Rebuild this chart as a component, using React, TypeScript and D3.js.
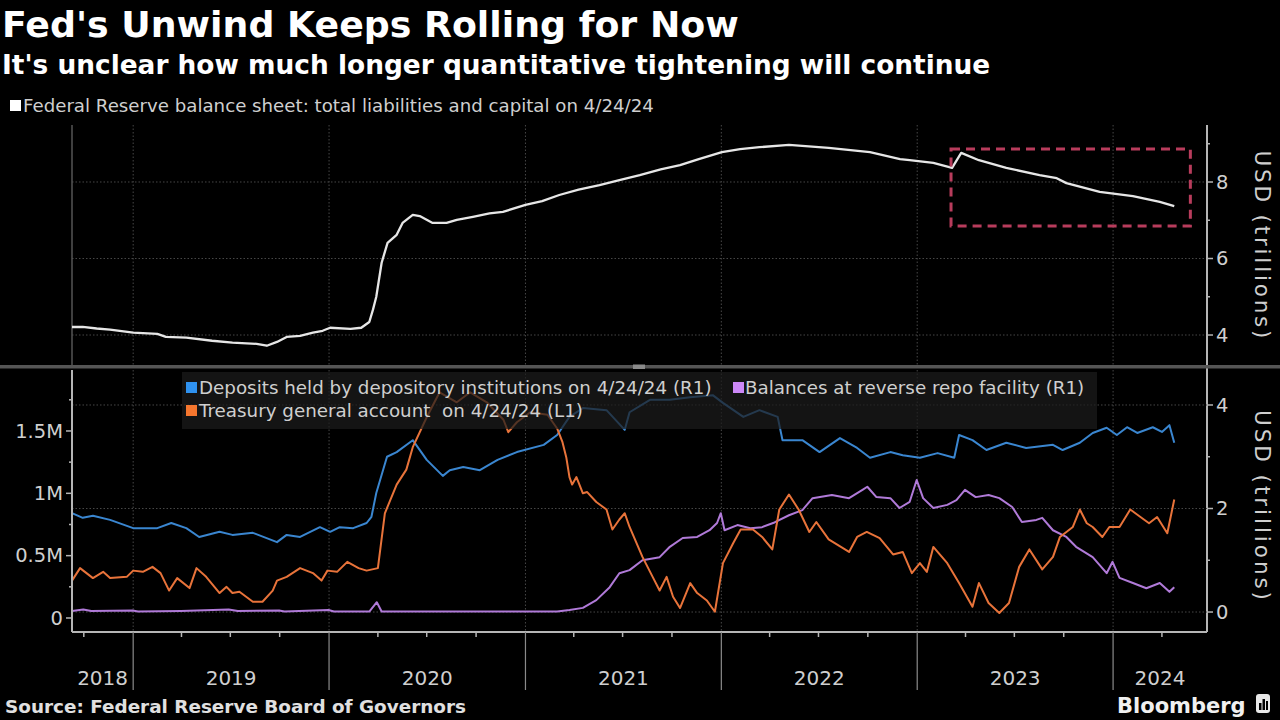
import React from "react";
import * as d3 from "d3";

const TITLE = "Fed's Unwind Keeps Rolling for Now";
const SUBTITLE = "It's unclear how much longer quantitative tightening will continue";
const TOP_LEGEND = "Federal Reserve balance sheet: total liabilities and capital on 4/24/24";
const LEGEND_DEPOSITS = "Deposits held by depository institutions on 4/24/24 (R1)";
const LEGEND_RRP = "Balances at reverse repo facility (R1)";
const LEGEND_TGA = "Treasury general account  on 4/24/24 (L1)";
const SOURCE = "Source: Federal Reserve Board of Governors";
const BRAND = "Bloomberg";
const AXIS_TITLE = "USD (trillions)";

const X_DOMAIN = ["2018-09-09", "2024-06-24"];
const YEARS = [2018, 2019, 2020, 2021, 2022, 2023, 2024];
const TOP_TICKS = [4, 6, 8];
const TOP_MINOR = [5, 7, 9];
const LEFT_TICKS = [0, 0.5, 1, 1.5];
const LEFT_LABELS = ["0", "0.5M", "1M", "1.5M"];
const LEFT_MINOR = [0.25, 0.75, 1.25, 1.75];
const RIGHT_TICKS = [0, 2, 4];
const RIGHT_MINOR = [1, 3];
const HIGHLIGHT_DATES = ["2023-03-05", "2024-05-24"];
const HIGHLIGHT_VALUES = [6.85, 8.86];

// Fed balance sheet, USD trillions
const balanceSheet: [string, number][] = [
  ["2018-09-09", 4.21], ["2018-09-29", 4.21], ["2018-10-25", 4.17], ["2018-11-19", 4.14],
  ["2019-01-01", 4.06], ["2019-02-15", 4.03], ["2019-03-03", 3.95], ["2019-04-10", 3.93],
  ["2019-05-28", 3.85], ["2019-07-05", 3.8], ["2019-08-19", 3.77], ["2019-09-07", 3.72],
  ["2019-09-26", 3.82], ["2019-10-14", 3.95], ["2019-11-08", 3.98], ["2019-12-02", 4.06],
  ["2019-12-20", 4.11], ["2020-01-03", 4.19], ["2020-02-10", 4.16], ["2020-03-01", 4.19],
  ["2020-03-16", 4.34], ["2020-03-23", 4.67], ["2020-03-29", 5.0], ["2020-04-08", 5.89],
  ["2020-04-19", 6.41], ["2020-05-06", 6.62], ["2020-05-17", 6.93], ["2020-06-05", 7.14],
  ["2020-06-18", 7.11], ["2020-07-12", 6.93], ["2020-08-07", 6.93], ["2020-08-26", 7.01],
  ["2020-09-25", 7.09], ["2020-10-26", 7.18], ["2020-11-20", 7.22], ["2021-01-01", 7.4],
  ["2021-02-01", 7.5], ["2021-03-05", 7.66], ["2021-04-10", 7.8], ["2021-05-19", 7.92],
  ["2021-06-25", 8.05], ["2021-08-02", 8.18], ["2021-09-10", 8.33], ["2021-10-16", 8.44],
  ["2021-11-20", 8.6], ["2022-01-02", 8.78], ["2022-02-05", 8.86], ["2022-03-13", 8.91],
  ["2022-05-07", 8.97], ["2022-07-20", 8.89], ["2022-10-05", 8.78], ["2022-11-30", 8.6],
  ["2022-12-18", 8.57], ["2023-01-31", 8.5], ["2023-03-07", 8.37], ["2023-03-24", 8.76],
  ["2023-04-26", 8.57], ["2023-06-16", 8.37], ["2023-08-17", 8.18], ["2023-09-18", 8.1],
  ["2023-10-06", 7.97], ["2023-12-07", 7.74], ["2024-02-07", 7.63], ["2024-03-28", 7.48],
  ["2024-04-24", 7.37],
];

// Deposits held by depository institutions, USD trillions (R1)
const deposits: [string, number][] = [
  ["2018-09-09", 1.91], ["2018-09-29", 1.82], ["2018-10-18", 1.86], ["2018-11-19", 1.78],
  ["2019-01-01", 1.62], ["2019-02-15", 1.62], ["2019-03-13", 1.72], ["2019-04-10", 1.62],
  ["2019-05-04", 1.45], ["2019-06-11", 1.55], ["2019-07-05", 1.49], ["2019-08-12", 1.53],
  ["2019-09-26", 1.35], ["2019-10-14", 1.49], ["2019-11-08", 1.45], ["2019-12-15", 1.64],
  ["2020-01-03", 1.55], ["2020-01-21", 1.64], ["2020-02-15", 1.62], ["2020-03-11", 1.72],
  ["2020-03-20", 1.84], ["2020-03-29", 2.3], ["2020-04-18", 3.0], ["2020-05-06", 3.09],
  ["2020-06-05", 3.32], ["2020-07-01", 2.94], ["2020-07-31", 2.63], ["2020-08-13", 2.74],
  ["2020-09-07", 2.8], ["2020-10-08", 2.74], ["2020-11-10", 2.94], ["2020-12-16", 3.09],
  ["2021-02-04", 3.23], ["2021-03-01", 3.42], ["2021-03-24", 3.77], ["2021-04-18", 3.94],
  ["2021-06-01", 3.9], ["2021-07-05", 3.52], ["2021-07-14", 3.86], ["2021-08-21", 4.1],
  ["2021-09-27", 4.1], ["2021-11-04", 4.15], ["2021-12-16", 4.19], ["2022-01-04", 4.04],
  ["2022-02-11", 3.77], ["2022-03-13", 3.9], ["2022-04-16", 3.77], ["2022-04-25", 3.32],
  ["2022-06-01", 3.32], ["2022-07-03", 3.09], ["2022-08-10", 3.36], ["2022-09-11", 3.17],
  ["2022-10-05", 2.98], ["2022-11-12", 3.09], ["2022-12-05", 3.03], ["2023-01-06", 2.98],
  ["2023-02-08", 3.07], ["2023-03-11", 2.98], ["2023-03-20", 3.42], ["2023-04-14", 3.32],
  ["2023-05-10", 3.13], ["2023-06-16", 3.27], ["2023-07-23", 3.17], ["2023-09-11", 3.23],
  ["2023-09-29", 3.13], ["2023-10-31", 3.27], ["2023-11-24", 3.46], ["2023-12-20", 3.56],
  ["2024-01-08", 3.42], ["2024-01-27", 3.57], ["2024-02-15", 3.46], ["2024-03-15", 3.57],
  ["2024-04-01", 3.48], ["2024-04-15", 3.61], ["2024-04-24", 3.27],
];

// Treasury general account, in millions of USD millions (L1)
const tga: [string, number][] = [
  ["2018-09-09", 0.3], ["2018-09-24", 0.4], ["2018-10-18", 0.32], ["2018-11-06", 0.37],
  ["2018-11-19", 0.32], ["2018-12-20", 0.33], ["2019-01-01", 0.38], ["2019-01-19", 0.37],
  ["2019-02-06", 0.41], ["2019-02-21", 0.36], ["2019-03-09", 0.22], ["2019-03-24", 0.32],
  ["2019-04-16", 0.24], ["2019-04-29", 0.4], ["2019-05-17", 0.33], ["2019-06-11", 0.2],
  ["2019-06-24", 0.25], ["2019-07-05", 0.2], ["2019-07-18", 0.21], ["2019-08-12", 0.13],
  ["2019-08-30", 0.13], ["2019-09-18", 0.22], ["2019-09-26", 0.3], ["2019-10-14", 0.33],
  ["2019-11-08", 0.4], ["2019-12-02", 0.36], ["2019-12-18", 0.3], ["2019-12-29", 0.38],
  ["2020-01-16", 0.37], ["2020-02-04", 0.45], ["2020-02-25", 0.4], ["2020-03-11", 0.38],
  ["2020-04-01", 0.4], ["2020-04-14", 0.84], ["2020-05-06", 1.07], ["2020-05-24", 1.19],
  ["2020-06-05", 1.37], ["2020-07-01", 1.61], ["2020-07-25", 1.81], ["2020-08-26", 1.73],
  ["2020-09-20", 1.81], ["2020-10-21", 1.73], ["2020-11-21", 1.59], ["2020-11-30", 1.49],
  ["2020-12-16", 1.57], ["2021-01-10", 1.65], ["2021-02-11", 1.63], ["2021-03-01", 1.52],
  ["2021-03-11", 1.41], ["2021-03-18", 1.29], ["2021-03-24", 1.13], ["2021-03-29", 1.07],
  ["2021-04-06", 1.13], ["2021-04-18", 1.0], ["2021-04-26", 1.01], ["2021-05-13", 0.93],
  ["2021-06-01", 0.87], ["2021-06-12", 0.71], ["2021-06-25", 0.79], ["2021-07-05", 0.84],
  ["2021-07-14", 0.73], ["2021-08-07", 0.49], ["2021-08-26", 0.33], ["2021-09-08", 0.22],
  ["2021-09-21", 0.33], ["2021-10-03", 0.17], ["2021-10-16", 0.08], ["2021-11-04", 0.28],
  ["2021-11-17", 0.2], ["2021-12-05", 0.14], ["2021-12-20", 0.05], ["2022-01-04", 0.44],
  ["2022-01-23", 0.6], ["2022-02-06", 0.71], ["2022-03-01", 0.71], ["2022-03-18", 0.65],
  ["2022-04-06", 0.55], ["2022-04-19", 0.87], ["2022-05-07", 0.99], ["2022-05-25", 0.87],
  ["2022-06-14", 0.69], ["2022-06-27", 0.77], ["2022-07-20", 0.63], ["2022-08-27", 0.53],
  ["2022-09-11", 0.65], ["2022-09-29", 0.69], ["2022-10-23", 0.64], ["2022-11-17", 0.51],
  ["2022-12-05", 0.53], ["2022-12-22", 0.36], ["2023-01-06", 0.44], ["2023-01-19", 0.37],
  ["2023-01-31", 0.57], ["2023-02-26", 0.44], ["2023-03-20", 0.28], ["2023-04-14", 0.09],
  ["2023-04-26", 0.28], ["2023-05-14", 0.12], ["2023-06-03", 0.04], ["2023-06-21", 0.12],
  ["2023-07-10", 0.41], ["2023-07-29", 0.55], ["2023-08-22", 0.39], ["2023-09-11", 0.49],
  ["2023-09-24", 0.65], ["2023-10-18", 0.73], ["2023-10-31", 0.87], ["2023-11-13", 0.76],
  ["2023-11-24", 0.73], ["2023-12-12", 0.65], ["2023-12-25", 0.73], ["2024-01-13", 0.73],
  ["2024-02-02", 0.87], ["2024-02-21", 0.81], ["2024-03-08", 0.76], ["2024-03-23", 0.81],
  ["2024-04-11", 0.68], ["2024-04-24", 0.95],
];

// Balances at reverse repo facility, USD trillions (R1)
const rrp: [string, number][] = [
  ["2018-09-09", 0.02], ["2018-09-30", 0.05], ["2018-10-15", 0.02], ["2018-12-31", 0.03],
  ["2019-01-10", 0.01], ["2019-03-31", 0.02], ["2019-06-28", 0.05], ["2019-07-15", 0.02],
  ["2019-09-30", 0.03], ["2019-10-10", 0.01], ["2019-12-31", 0.04], ["2020-01-10", 0.01],
  ["2020-03-16", 0.01], ["2020-03-30", 0.19], ["2020-04-08", 0.01], ["2020-09-30", 0.01],
  ["2020-12-31", 0.01], ["2021-03-01", 0.01], ["2021-03-24", 0.04], ["2021-04-18", 0.08],
  ["2021-05-13", 0.23], ["2021-06-07", 0.48], ["2021-06-25", 0.75], ["2021-07-14", 0.81],
  ["2021-08-07", 1.0], ["2021-09-08", 1.06], ["2021-09-27", 1.26], ["2021-10-21", 1.43],
  ["2021-11-17", 1.45], ["2021-12-10", 1.58], ["2021-12-24", 1.72], ["2021-12-31", 1.91],
  ["2022-01-07", 1.58], ["2022-01-31", 1.68], ["2022-02-24", 1.62], ["2022-03-18", 1.64],
  ["2022-04-10", 1.73], ["2022-05-07", 1.87], ["2022-06-01", 1.97], ["2022-06-20", 2.2],
  ["2022-07-26", 2.26], ["2022-08-27", 2.2], ["2022-09-21", 2.36], ["2022-09-30", 2.42],
  ["2022-10-17", 2.22], ["2022-11-12", 2.2], ["2022-11-29", 2.01], ["2022-12-18", 2.13],
  ["2022-12-31", 2.55], ["2023-01-12", 2.2], ["2023-01-31", 2.01], ["2023-02-26", 2.07],
  ["2023-03-15", 2.16], ["2023-03-31", 2.36], ["2023-04-20", 2.22], ["2023-05-14", 2.26],
  ["2023-06-03", 2.2], ["2023-06-27", 2.03], ["2023-07-15", 1.74], ["2023-08-11", 1.78],
  ["2023-08-22", 1.82], ["2023-09-11", 1.58], ["2023-10-06", 1.45], ["2023-10-24", 1.26],
  ["2023-11-24", 1.06], ["2023-12-20", 0.75], ["2023-12-31", 0.97], ["2024-01-13", 0.66],
  ["2024-02-07", 0.56], ["2024-03-03", 0.46], ["2024-03-28", 0.56], ["2024-04-15", 0.39],
  ["2024-04-24", 0.48],
];

const W = 1280;
const H = 720;
const X0 = 72;
const X1 = 1207;
const TOP_Y0 = 125;
const TOP_Y1 = 366;
const BOT_Y0 = 370;
const BOT_Y1 = 632;

const FONT = "DejaVu Sans";
const C_TEXT = "#cfcfcf";
const C_AXIS = "#b5b5b5";
const C_GRID = "#474747";
const C_BLUE = "#3a86d0";
const C_ORANGE = "#e8733a";
const C_PURPLE = "#b07ad8";
const SQ_BLUE = "#2f92f0";
const SQ_ORANGE = "#f5762e";
const SQ_PURPLE = "#cc88f7";

const parse = d3.timeParse("%Y-%m-%d");
type Pt = [Date, number];
const toPts = (arr: [string, number][]): Pt[] => arr.map(([d, v]) => [parse(d) as Date, v]);

export default function App() {
  const d0 = parse(X_DOMAIN[0]) as Date;
  const d1 = parse(X_DOMAIN[1]) as Date;
  const x = d3.scaleTime().domain([d0, d1]).range([X0, X1]);
  const yTop = d3.scaleLinear().domain([3.19, 9.49]).range([TOP_Y1, TOP_Y0]);
  const yL = d3.scaleLinear().domain([-0.1123, 1.989]).range([BOT_Y1, BOT_Y0]);
  const yR = d3.scaleLinear().domain([-0.386, 4.676]).range([BOT_Y1, BOT_Y0]);

  const lineTop = d3.line<Pt>().x((d) => x(d[0])).y((d) => yTop(d[1]));
  const lineL = d3.line<Pt>().x((d) => x(d[0])).y((d) => yL(d[1]));
  const lineR = d3.line<Pt>().x((d) => x(d[0])).y((d) => yR(d[1]));

  const yearStarts = d3.timeYear.range(d0, d1);
  const quarters = d3.timeMonth.every(3)!.range(d0, d1).filter((d) => d.getMonth() !== 0);

  const yearLabels = YEARS.map((yr) => {
    const s = new Date(yr, 0, 1) < d0 ? d0 : new Date(yr, 0, 1);
    const e = new Date(yr + 1, 0, 1) > d1 ? d1 : new Date(yr + 1, 0, 1);
    return { yr, cx: (x(s) + x(e)) / 2 };
  });

  const hx0 = x(parse(HIGHLIGHT_DATES[0]) as Date);
  const hx1 = x(parse(HIGHLIGHT_DATES[1]) as Date);
  const hy0 = yTop(HIGHLIGHT_VALUES[1]);
  const hy1 = yTop(HIGHLIGHT_VALUES[0]);

  return (
    <svg
      width={W}
      height={H}
      style={{ position: "absolute", left: 0, top: 0, background: "#000", display: "block" }}
      fontFamily={FONT}
    >
      <rect x={0} y={0} width={W} height={H} fill="#000" />
      {/* titles */}
      <text x={2} y={37} fill="#fff" fontSize={36.3} fontWeight="bold">{TITLE}</text>
      <text x={2} y={74} fill="#fff" fontSize={26.4} fontWeight="bold">{SUBTITLE}</text>
      <rect x={10} y={100} width={11} height={11} fill="#fff" />
      <text x={23} y={112} fill={C_TEXT} fontSize={18.2}>{TOP_LEGEND}</text>

      {/* top panel grid */}
      {yearStarts.map((d, i) => (
        <line key={"tg" + i} x1={x(d)} x2={x(d)} y1={TOP_Y0} y2={TOP_Y1} stroke={C_GRID} strokeDasharray="1.5 2" />
      ))}
      {TOP_TICKS.map((t) => (
        <line key={"th" + t} x1={X0} x2={X1} y1={yTop(t)} y2={yTop(t)} stroke={C_GRID} strokeDasharray="1.5 2" />
      ))}
      <line x1={X0} x2={X0} y1={TOP_Y0} y2={TOP_Y1} stroke="#555" strokeWidth={1.5} />

      {/* top panel line */}
      <path d={lineTop(toPts(balanceSheet)) || ""} fill="none" stroke="#e6e6e6" strokeWidth={2.3} strokeLinejoin="round" />

      {/* highlight */}
      <rect x={hx0} y={hy0} width={hx1 - hx0} height={hy1 - hy0} fill="none" stroke="#b83c5c" strokeWidth={3} strokeDasharray="9 6" />

      {/* right axis top */}
      <line x1={X1} x2={X1} y1={TOP_Y0} y2={BOT_Y1} stroke={C_AXIS} strokeWidth={2} />
      {TOP_TICKS.map((t) => (
        <g key={"tt" + t}>
          <line x1={X1} x2={X1 + 6} y1={yTop(t)} y2={yTop(t)} stroke={C_AXIS} strokeWidth={1.5} />
          <text x={X1 + 9} y={yTop(t)} dy="0.35em" fill={C_TEXT} fontSize={19.5}>{t}</text>
        </g>
      ))}
      {TOP_MINOR.map((t) => (
        <line key={"tm" + t} x1={X1} x2={X1 + 3} y1={yTop(t)} y2={yTop(t)} stroke={C_AXIS} strokeWidth={1.5} />
      ))}
      <text
        transform={`translate(1255, ${(TOP_Y0 + TOP_Y1) / 2 - 1}) rotate(90)`}
        textAnchor="middle"
        fill={C_TEXT}
        fontSize={21.5}
        textLength={188}
        lengthAdjust="spacing"
      >
        {AXIS_TITLE}
      </text>

      {/* separator */}
      <rect x={0} y={365} width={W} height={3.5} fill="#555" />
      <rect x={633} y={364.5} width={12} height={4.5} fill="#8a8a8a" />

      {/* bottom panel grid */}
      {yearStarts.map((d, i) => (
        <line key={"bg" + i} x1={x(d)} x2={x(d)} y1={BOT_Y0} y2={BOT_Y1} stroke={C_GRID} strokeDasharray="1.5 2" />
      ))}
      {RIGHT_TICKS.map((t) => (
        <line key={"bh" + t} x1={X0} x2={X1} y1={yR(t)} y2={yR(t)} stroke={C_GRID} strokeDasharray="1.5 2" />
      ))}

      {/* bottom lines */}
      <path d={lineR(toPts(deposits)) || ""} fill="none" stroke={C_BLUE} strokeWidth={2} strokeLinejoin="round" />
      <path d={lineR(toPts(rrp)) || ""} fill="none" stroke={C_PURPLE} strokeWidth={2} strokeLinejoin="round" />
      <path d={lineL(toPts(tga)) || ""} fill="none" stroke={C_ORANGE} strokeWidth={2} strokeLinejoin="round" />

      {/* legend */}
      <rect x={182} y={372} width={915} height={57} fill="rgba(28,28,28,0.72)" />
      <rect x={186} y={382} width={11} height={11} fill={SQ_BLUE} />
      <text x={199} y={394} fill={C_TEXT} fontSize={18.3}>{LEGEND_DEPOSITS}</text>
      <rect x={733} y={382} width={11} height={11} fill={SQ_PURPLE} />
      <text x={745} y={394} fill={C_TEXT} fontSize={18.3}>{LEGEND_RRP}</text>
      <rect x={186} y={405} width={11} height={11} fill={SQ_ORANGE} />
      <text x={199} y={417} fill={C_TEXT} fontSize={18.3} style={{ whiteSpace: "pre" }}>{LEGEND_TGA}</text>

      {/* left axis bottom */}
      <line x1={X0} x2={X0} y1={BOT_Y0} y2={BOT_Y1} stroke={C_AXIS} strokeWidth={2} />
      {LEFT_TICKS.map((t, i) => (
        <g key={"lt" + t}>
          <line x1={X0 - 6} x2={X0} y1={yL(t)} y2={yL(t)} stroke={C_AXIS} strokeWidth={1.5} />
          <text x={X0 - 9} y={yL(t)} dy="0.35em" textAnchor="end" fill={C_TEXT} fontSize={19.5}>{LEFT_LABELS[i]}</text>
        </g>
      ))}
      {LEFT_MINOR.map((t) => (
        <line key={"lm" + t} x1={X0 - 3} x2={X0} y1={yL(t)} y2={yL(t)} stroke={C_AXIS} strokeWidth={1.5} />
      ))}

      {/* right axis bottom */}
      {RIGHT_TICKS.map((t) => (
        <g key={"rt" + t}>
          <line x1={X1} x2={X1 + 6} y1={yR(t)} y2={yR(t)} stroke={C_AXIS} strokeWidth={1.5} />
          <text x={X1 + 9} y={yR(t)} dy="0.35em" fill={C_TEXT} fontSize={19.5}>{t}</text>
        </g>
      ))}
      {RIGHT_MINOR.map((t) => (
        <line key={"rm" + t} x1={X1} x2={X1 + 3} y1={yR(t)} y2={yR(t)} stroke={C_AXIS} strokeWidth={1.5} />
      ))}
      <text
        transform={`translate(1255, ${(BOT_Y0 + BOT_Y1) / 2 + 4}) rotate(90)`}
        textAnchor="middle"
        fill={C_TEXT}
        fontSize={21.5}
        textLength={190}
        lengthAdjust="spacing"
      >
        {AXIS_TITLE}
      </text>

      {/* x axis */}
      <line x1={X0} x2={X1} y1={BOT_Y1} y2={BOT_Y1} stroke={C_AXIS} strokeWidth={2} />
      {quarters.map((d, i) => (
        <line key={"q" + i} x1={x(d)} x2={x(d)} y1={BOT_Y1} y2={BOT_Y1 + 5} stroke={C_AXIS} strokeWidth={1.5} />
      ))}
      {yearStarts.map((d, i) => (
        <line key={"ys" + i} x1={x(d)} x2={x(d)} y1={BOT_Y1} y2={690} stroke="#8a8a8a" strokeWidth={1.2} />
      ))}
      {yearLabels.map((l) => (
        <text key={"yl" + l.yr} x={l.cx} y={685} textAnchor="middle" fill={C_TEXT} fontSize={20}>{l.yr}</text>
      ))}

      {/* footer */}
      <text x={5} y={713} fill="#e0e0e0" fontSize={18.4} fontWeight="bold">{SOURCE}</text>
      <text x={1117} y={713} fill="#f0f0f0" fontSize={21} fontWeight="bold">{BRAND}</text>
      <g>
        <rect x={1256} y={694} width={14} height={19} rx={3} fill="#e8e8e8" />
        <rect x={1259} y={703} width={2.5} height={7} fill="#000" />
        <rect x={1262.5} y={699} width={2.5} height={11} fill="#000" />
        <rect x={1266} y={701} width={2} height={9} fill="#000" />
      </g>
    </svg>
  );
}
